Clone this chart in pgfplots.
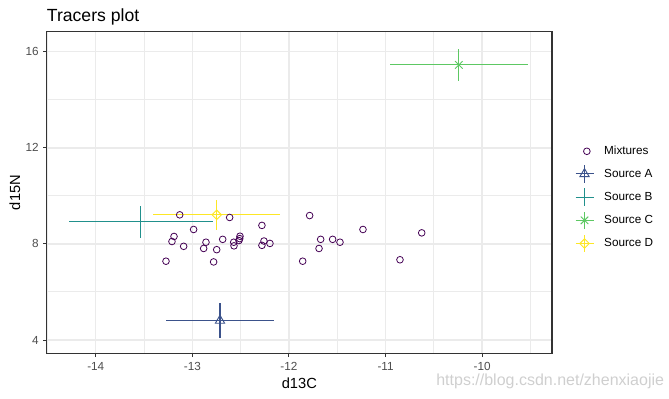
\documentclass[border=0pt]{standalone}
\usepackage{fontspec}
\setmainfont{Liberation Sans}
\usepackage{pgfplots}
\pgfplotsset{compat=1.18}
\definecolor{cmix}{HTML}{440154}
\definecolor{ca}{HTML}{3B528B}
\definecolor{cb}{HTML}{21908C}
\definecolor{cc}{HTML}{5DC863}
\definecolor{cd}{HTML}{FDE725}
\definecolor{gridc}{HTML}{EBEBEB}
\definecolor{g20}{HTML}{333333}
\definecolor{g30}{HTML}{4D4D4D}
\definecolor{wm}{HTML}{CFCFCF}
\pgfplotsset{
  srcleg/.style={legend image code/.code={
      \path[draw=none,fill=none] (0pt,-6.5pt) rectangle (21.5pt,6.5pt);
      \draw[mark=none] (0pt,0pt) -- (13.5pt,0pt);
      \draw[mark=none] (6.75pt,-6.5pt) -- (6.75pt,6.5pt);
      \draw plot coordinates {(6.75pt,0pt)};
  }},
  mixleg/.style={legend image code/.code={
      \path[draw=none,fill=none] (0pt,-6.5pt) rectangle (21.5pt,6.5pt);
      \draw plot coordinates {(8.5pt,0pt)};
  }},
  ebars/.style={error bars/x dir=both, error bars/x explicit,
    error bars/y dir=both, error bars/y explicit,
    error bars/error mark=none,
    error bars/error bar style={line width=0.8pt, color=#1}},
}
\pgfplotstableread{
x y
-13.273 7.28
-13.190 8.31
-13.211 8.10
-13.131 9.21
-13.090 7.90
-12.987 8.60
-12.859 8.07
-12.883 7.81
-12.780 7.25
-12.748 7.76
-12.686 8.19
-12.614 9.10
-12.572 8.07
-12.569 7.92
-12.507 8.32
-12.510 8.22
-12.518 8.14
-12.280 8.77
-12.259 8.12
-12.280 7.94
-12.197 8.02
-11.786 9.18
-11.858 7.28
-11.672 8.19
-11.689 7.81
-11.548 8.19
-11.472 8.07
-11.234 8.60
-10.851 7.34
-10.626 8.46
}\mixtures
\begin{document}
\begin{tikzpicture}
\path[use as bounding box] (-35pt,-33.5pt) rectangle (466.7pt,265pt);
\begin{axis}[
  name=ax, at={(0,0)}, anchor=south west,
  scale only axis, width=379pt, height=241.2pt,
  xmin=-14.508, xmax=-9.277, ymin=3.445, ymax=16.83,
  axis lines=box,
  xtick={-14,-13,-12,-11,-10}, xticklabels={-14,-13,-12,-11,-10},
  ytick={4,8,12,16}, yticklabels={4,8,12,16},
  minor xtick={-14.5,-13.5,-12.5,-11.5,-10.5,-9.5},
  minor ytick={6,10,14},
  xmajorgrids=true, ymajorgrids=true, xminorgrids=true, yminorgrids=true,
  major grid style={draw=gridc, line width=1.1pt},
  minor grid style={draw=gridc, line width=0.8pt},
  minor tick length=0pt,
  tick align=outside, major tick length=2.75pt,
  xtick pos=bottom, ytick pos=left,
  tick style={draw=g20, line width=0.75pt},
  axis line style={draw=g20, line width=1.1pt},
  xticklabel style={font=\fontsize{8.8}{10}\selectfont, text=g30, anchor=base, inner sep=0pt, yshift=-10.45pt},
  yticklabel style={font=\fontsize{8.8}{10}\selectfont, text=g30, anchor=east, inner sep=0pt, xshift=-3.05pt},
  xlabel={d13C},
  xlabel style={at={([yshift=-26.25pt]axis description cs:0.5,0)}, anchor=base, inner sep=0pt, font=\fontsize{11}{13}\selectfont},
  ylabel={d15N},
  ylabel style={at={([xshift=-20pt]axis description cs:0,0.5)}, anchor=base, inner sep=0pt, font=\fontsize{11}{13}\selectfont},
  title={Tracers plot},
  title style={at={([yshift=1.3pt]axis description cs:0,1)}, anchor=base west, inner sep=0pt, font=\fontsize{13.2}{15}\selectfont},
  legend style={at={([xshift=17pt]axis description cs:1,0.484)}, anchor=west, draw=none, fill=none, inner sep=0pt, row sep=3.6pt, column sep=0pt, font=\fontsize{8.8}{10}\selectfont, nodes={inner sep=0pt}},
  legend cell align=left,
]
\addplot[mixleg, only marks, mark=o, mark size=2.5pt, color=cmix, mark options={line width=0.6pt}] table {\mixtures};
\addlegendentry{Mixtures}
\addplot[srcleg, only marks, mark=triangle, mark size=4pt, color=ca, line width=0.8pt, mark options={line width=0.7pt}, ebars=ca]
  coordinates {(-12.714,4.81) +- (0.56,0.74)};
\addlegendentry{Source A}
\addplot[srcleg, only marks, mark=+, mark size=3pt, color=cb, line width=0.8pt, ebars=cb]
  coordinates {(-13.532,8.92) +- (0.744,0.655)};
\addlegendentry{Source B}
\addplot[srcleg, only marks, mark=x, mark size=4pt, color=cc, line width=0.8pt, mark options={line width=0.7pt}, ebars=cc]
  coordinates {(-10.242,15.45) +- (0.713,0.675)};
\addlegendentry{Source C}
\addplot[srcleg, only marks, mark=square, mark size=2.5pt, color=cd, line width=0.8pt, mark options={rotate=45, line width=0.7pt}, ebars=cd]
  coordinates {(-12.748,9.21) +- (0.657,0.63)};
\addlegendentry{Source D}
\end{axis}
\draw[g20, line width=1.1pt] (ax.south west) rectangle (ax.north east);
\node[anchor=west, inner sep=0pt, font=\fontsize{12}{14}\selectfont, text=wm] at (292pt,-20.75pt) {https://blog.csdn.net/zhenxiaojie};
\end{tikzpicture}
\end{document}
